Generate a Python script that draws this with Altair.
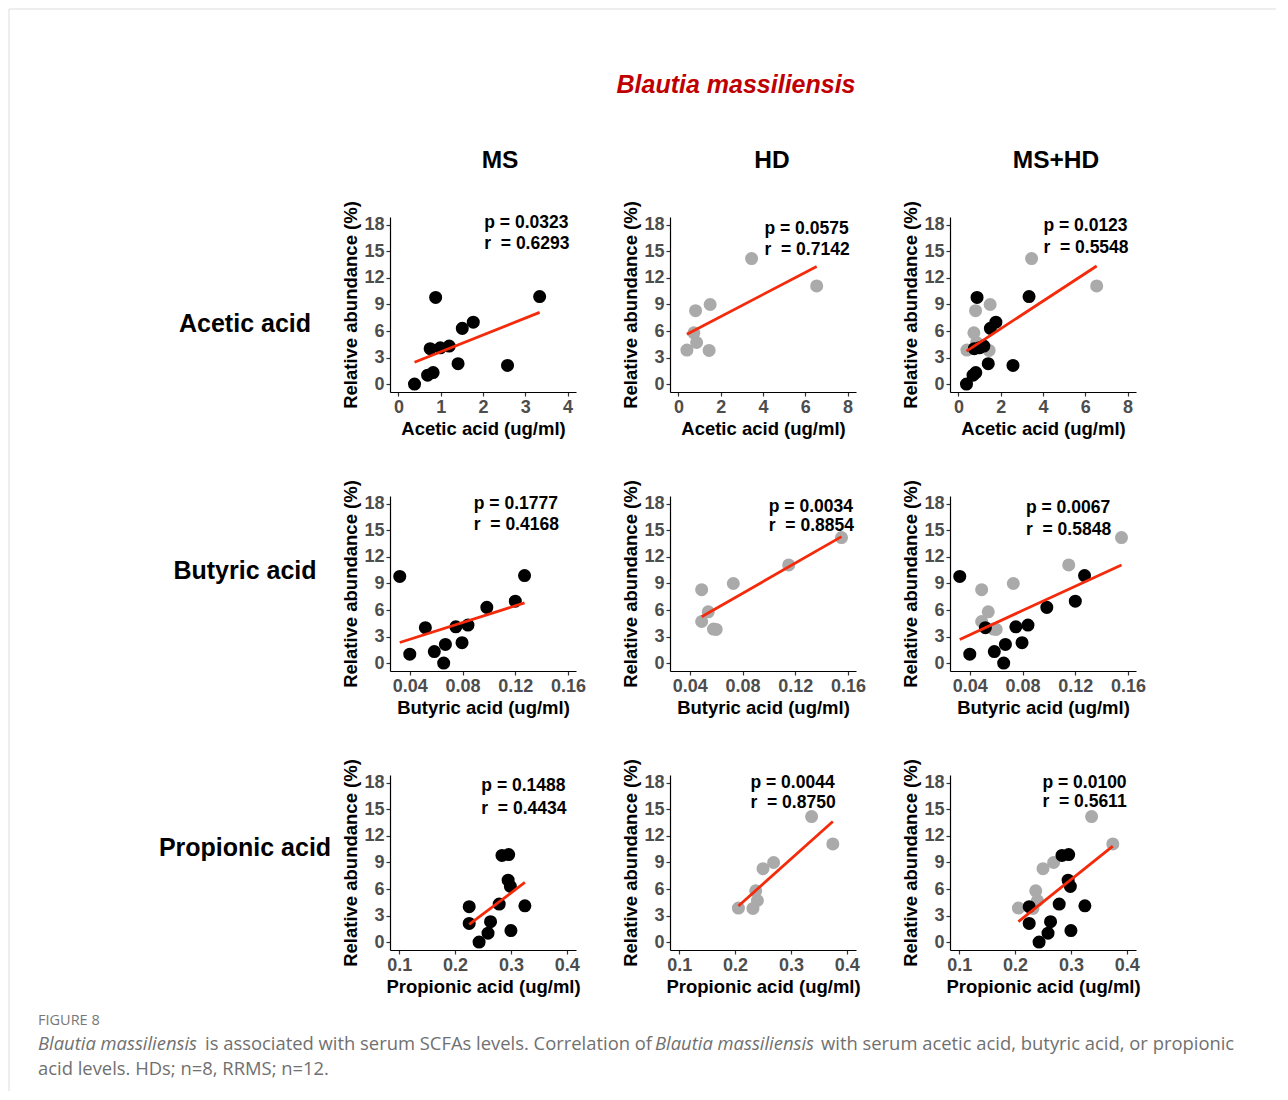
import altair as alt
import pandas as pd

# ---------------- data ----------------
MS_ABUNDANCE = [0.0, 1.0, 1.3, 2.1, 2.3, 4.0, 4.1, 4.3, 6.3, 7.0, 9.8, 9.9]
MS_ACETIC = [0.38, 0.69, 0.82, 2.58, 1.41, 0.75, 0.99, 1.20, 1.51, 1.77, 0.88, 3.34]
MS_BUTYRIC = [0.0657, 0.040, 0.0586, 0.067, 0.0796, 0.0518, 0.0749, 0.0841, 0.0984, 0.120, 0.0324, 0.127]
MS_PROPIONIC = [0.243, 0.259, 0.300, 0.2253, 0.2635, 0.2253, 0.325, 0.279, 0.299, 0.295, 0.284, 0.296]

HD_ABUNDANCE = [3.85, 3.8, 4.7, 5.8, 8.3, 9.0, 11.1, 14.2]
HD_ACETIC = [0.40, 1.45, 0.86, 0.73, 0.81, 1.50, 6.54, 3.46]
HD_BUTYRIC = [0.058, 0.060, 0.049, 0.054, 0.049, 0.073, 0.115, 0.155]
HD_PROPIONIC = [0.206, 0.232, 0.240, 0.237, 0.250, 0.269, 0.375, 0.337]

ACIDS = ["Acetic acid", "Butyric acid", "Propionic acid"]
GROUPS = ["MS", "HD", "MS+HD"]
P_VALUES = [["0.0323", "0.0575", "0.0123"],
            ["0.1777", "0.0034", "0.0067"],
            ["0.1488", "0.0044", "0.0100"]]
R_VALUES = [["0.6293", "0.7142", "0.5548"],
            ["0.4168", "0.8854", "0.5848"],
            ["0.4434", "0.8750", "0.5611"]]

# annotation anchors (data units): left x of the p/r text, y of p line, y of r line
ANNOT_X = [[2.03, 4.07, 4.02], [0.0885, 0.0999, 0.0826], [0.247, 0.2276, 0.249]]
ANNOT_YP = [[18.2, 17.5, 17.9], [18.0, 17.6, 17.5], [17.6, 18.0, 18.05]]
ANNOT_YR = [[15.8, 15.2, 15.4], [15.6, 15.5, 15.1], [15.1, 15.7, 15.8]]

X_DOMAINS = [[[-0.2, 4.2], [-0.4, 8.4], [-0.4, 8.4]],
             [[0.025, 0.166]] * 3,
             [[0.0835, 0.4165]] * 3]
X_TICKS = [[[0, 1, 2, 3, 4], [0, 2, 4, 6, 8], [0, 2, 4, 6, 8]],
           [[0.04, 0.08, 0.12, 0.16]] * 3,
           [[0.1, 0.2, 0.3, 0.4]] * 3]
X_FORMATS = ["d", ".2f", ".1f"]
X_TITLES = ["Acetic acid (ug/ml)", "Butyric acid (ug/ml)", "Propionic acid (ug/ml)"]
Y_TICKS = [0, 3, 6, 9, 12, 15, 18]

MS_X = [MS_ACETIC, MS_BUTYRIC, MS_PROPIONIC]
HD_X = [HD_ACETIC, HD_BUTYRIC, HD_PROPIONIC]

FONT = "Liberation Sans"
BLACK = "#000000"
GRAY = "#aaaaaa"
RED = "#f52a0a"
W, H = 186, 175


def panel(i, j):
    rows = []
    if GROUPS[j] in ("HD", "MS+HD"):
        for x, y in zip(HD_X[i], HD_ABUNDANCE):
            rows.append({"x": x, "y": y, "grp": "HD", "ord": 0})
    if GROUPS[j] in ("MS", "MS+HD"):
        for x, y in zip(MS_X[i], MS_ABUNDANCE):
            rows.append({"x": x, "y": y, "grp": "MS", "ord": 1})
    df = pd.DataFrame(rows)
    xscale = alt.Scale(domain=X_DOMAINS[i][j], nice=False, zero=False)
    yscale = alt.Scale(domain=[-0.9, 18.9], nice=False, zero=False)
    xenc = alt.X("x:Q", scale=xscale,
                 axis=alt.Axis(values=X_TICKS[i][j], format=X_FORMATS[i], title=X_TITLES[i]))
    yenc = alt.Y("y:Q", scale=yscale,
                 axis=alt.Axis(values=Y_TICKS, title="Relative abundance (%)"))
    pts = alt.Chart(df).mark_circle(size=170, opacity=1).encode(
        x=xenc, y=yenc,
        color=alt.Color("grp:N", scale=alt.Scale(domain=["HD", "MS"], range=[GRAY, BLACK]), legend=None),
        order=alt.Order("ord:Q"),
    )
    line = alt.Chart(df).transform_regression("x", "y").mark_line(
        color=RED, strokeWidth=2.8
    ).encode(x=xenc, y=yenc)
    tdf = pd.DataFrame({
        "x": [ANNOT_X[i][j], ANNOT_X[i][j]],
        "y": [ANNOT_YP[i][j], ANNOT_YR[i][j]],
        "t": ["p = " + P_VALUES[i][j], "r\u00a0 = " + R_VALUES[i][j]],
    })
    txt = alt.Chart(tdf).mark_text(
        align="left", baseline="middle", font=FONT, fontWeight="bold", fontSize=17.5, color="black"
    ).encode(x=xenc, y=yenc, text="t:N")
    return alt.layer(pts, line, txt).properties(width=W, height=H)


def text_layer(texts, x, y, size, weight="bold", style="normal", color="black", align="center"):
    return alt.Chart(pd.DataFrame({"t": [texts]})).mark_text(
        font=FONT, fontSize=size, fontWeight=weight, fontStyle=style, color=color,
        align=align, baseline="middle",
    ).encode(text="t:N", x=alt.value(x), y=alt.value(y))


ROW_LABEL_Y = [107, 75, 73]

cells = []
for i in range(3):
    layers = [text_layer(ACIDS[i], 135, ROW_LABEL_Y[i], 25)]
    if i == 0:
        layers.append(text_layer("Blautia massiliensis", 626, -132, 25, style="italic", color="#c00000"))
        for hx, g in zip([390, 662, 946], GROUPS):
            layers.append(text_layer(g, hx, -56, 24.5))
        dummy = pd.DataFrame({"a": [0]})
        layers.append(alt.Chart(dummy).mark_rule(color="#dddddd", strokeWidth=1).encode(
            x=alt.value(-101), y=alt.value(-208), y2=alt.value(874)))
        layers.append(alt.Chart(dummy).mark_rule(color="#dddddd", strokeWidth=1).encode(
            x=alt.value(-101), x2=alt.value(1166), y=alt.value(-208)))
    if i == 2:
        cap = "#707070"
        layers.append(alt.Chart(pd.DataFrame({"t": ["FIGURE 8"]})).mark_text(
            font="Open Sans", fontSize=14.5, color="#777777", align="left", baseline="middle"
        ).encode(text="t:N", x=alt.value(-72), y=alt.value(246)))
        segs = [("Blautia massiliensis", -72, 269, "italic"),
                ("is associated with serum SCFAs levels. Correlation of", 95, 269, "normal"),
                ("Blautia massiliensis", 545, 269, "italic"),
                ("with serum acetic acid, butyric acid, or propionic", 711, 269, "normal"),
                ("acid levels. HDs; n=8, RRMS; n=12.", -72, 294, "normal")]
        for s, sx, sy, st in segs:
            layers.append(alt.Chart(pd.DataFrame({"t": [s]})).mark_text(
                font="Open Sans", fontSize=18.4, color=cap, align="left", baseline="middle",
                fontStyle=st).encode(text="t:N", x=alt.value(sx), y=alt.value(sy)))
    cells.append(alt.layer(*layers).properties(width=W, height=H))
    for j in range(3):
        cells.append(panel(i, j))

chart = alt.concat(
    *cells, columns=4, spacing={"row": 104, "column": 94}, bounds="flush", align="each"
).properties(padding=0).configure_view(stroke=None).configure_axis(
    grid=False, domainColor="black", domainWidth=1.2, tickColor="#333333", tickSize=4,
    tickWidth=1.2, labelFont=FONT, labelFontSize=18, labelFontWeight="bold",
    labelColor="#4d4d4d", labelPadding=2, titleFont=FONT, titleFontSize=18.5,
    titleFontWeight="bold", titleColor="black", titlePadding=3, labelFlush=False,
    labelOverlap=False,
)

chart.save("out.html", embed_options={"renderer": "svg", "actions": False})
